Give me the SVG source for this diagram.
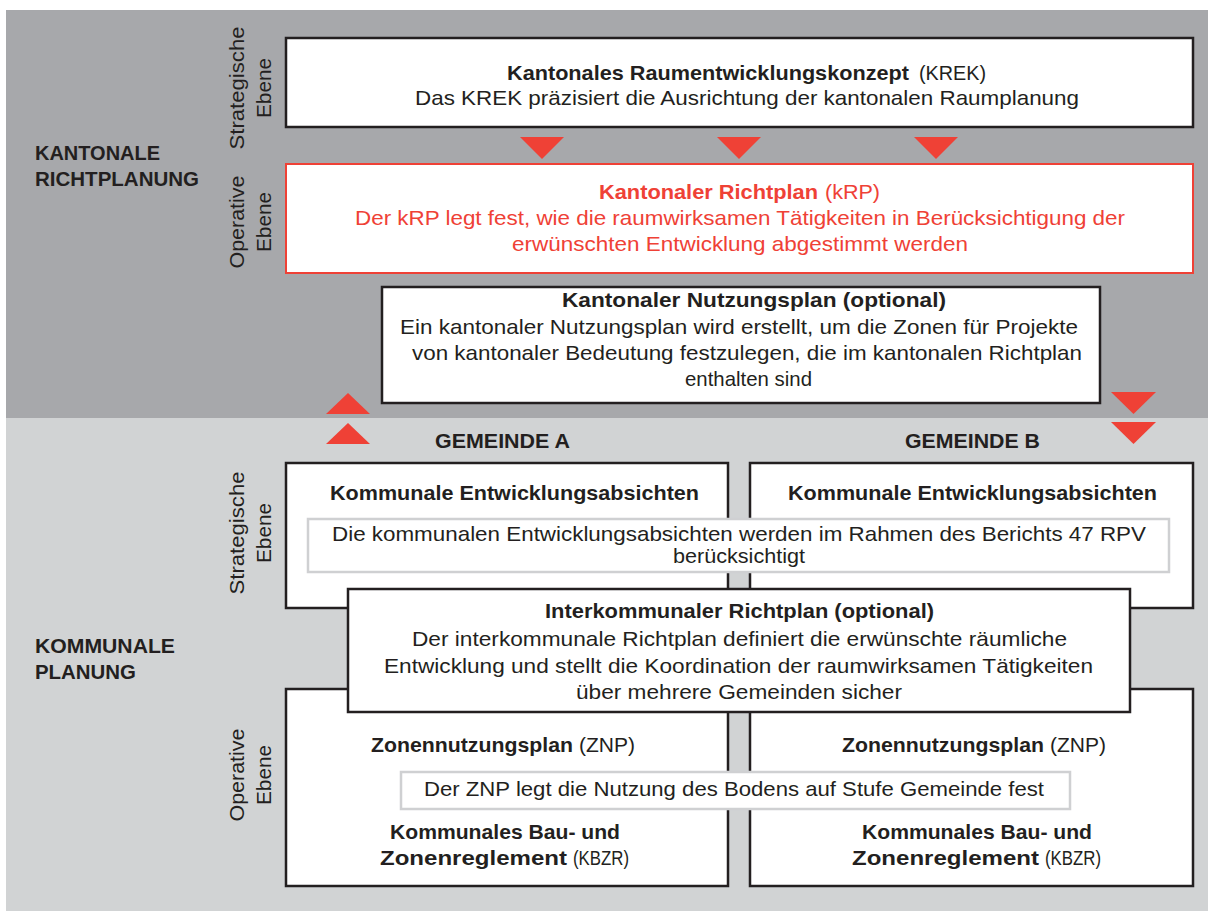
<svg xmlns="http://www.w3.org/2000/svg" width="1208" height="911" viewBox="0 0 1208 911">
<style>
text{font-family:"Liberation Sans",Arial,sans-serif;fill:#231f20;font-size:21px}
.b{font-weight:bold}
.c{text-anchor:middle}
.r{fill:#ef4136}
.lab{font-size:20px;text-anchor:middle}
.head{font-weight:bold;font-size:21px}
.box{fill:#fff;stroke:#231f20;stroke-width:2.5}
.rbox{fill:#fff;stroke:#ef4136;stroke-width:2}
.ov{fill:#fff;stroke:#cfd0d2;stroke-width:2.5}
.tri{fill:#ef4136}
</style>
<rect x="6" y="10" width="1202" height="408" fill="#a7a8ab"/>
<rect x="6" y="418" width="1202" height="493" fill="#d1d3d4"/>

<g id="side-labels">
<text class="head" x="35" y="160" textLength="125" lengthAdjust="spacingAndGlyphs">KANTONALE</text>
<text class="head" x="35" y="186" textLength="164" lengthAdjust="spacingAndGlyphs">RICHTPLANUNG</text>
<text class="head" x="35" y="653" textLength="140" lengthAdjust="spacingAndGlyphs">KOMMUNALE</text>
<text class="head" x="35" y="679" textLength="101" lengthAdjust="spacingAndGlyphs">PLANUNG</text>
<text class="lab" transform="translate(244,88) rotate(-90)" textLength="123" lengthAdjust="spacingAndGlyphs">Strategische</text>
<text class="lab" transform="translate(271,88) rotate(-90)" textLength="60" lengthAdjust="spacingAndGlyphs">Ebene</text>
<text class="lab" transform="translate(244,222) rotate(-90)" textLength="93" lengthAdjust="spacingAndGlyphs">Operative</text>
<text class="lab" transform="translate(271,222) rotate(-90)" textLength="60" lengthAdjust="spacingAndGlyphs">Ebene</text>
<text class="lab" transform="translate(244,533) rotate(-90)" textLength="123" lengthAdjust="spacingAndGlyphs">Strategische</text>
<text class="lab" transform="translate(271,533) rotate(-90)" textLength="60" lengthAdjust="spacingAndGlyphs">Ebene</text>
<text class="lab" transform="translate(244,775) rotate(-90)" textLength="93" lengthAdjust="spacingAndGlyphs">Operative</text>
<text class="lab" transform="translate(271,775) rotate(-90)" textLength="60" lengthAdjust="spacingAndGlyphs">Ebene</text>
<text class="head" x="435" y="448" textLength="135" lengthAdjust="spacingAndGlyphs">GEMEINDE A</text>
<text class="head" x="905" y="448" textLength="135" lengthAdjust="spacingAndGlyphs">GEMEINDE B</text>
</g>

<g id="krek">
<rect class="box" x="286" y="38" width="907" height="89"/>
<text class="b" x="507" y="80" textLength="402" lengthAdjust="spacingAndGlyphs">Kantonales Raumentwicklungskonzept</text>
<text x="919" y="80" textLength="67" lengthAdjust="spacingAndGlyphs">(KREK)</text>
<text x="415" y="105" textLength="664" lengthAdjust="spacingAndGlyphs">Das KREK präzisiert die Ausrichtung der kantonalen Raumplanung</text>
</g>

<g id="krp">
<rect class="rbox" x="286" y="164" width="907" height="109"/>
<text class="b r" x="599" y="199" textLength="219" lengthAdjust="spacingAndGlyphs">Kantonaler Richtplan</text>
<text class="r" x="825" y="199" textLength="55" lengthAdjust="spacingAndGlyphs">(kRP)</text>
<text class="r" x="355" y="225" textLength="770" lengthAdjust="spacingAndGlyphs">Der kRP legt fest, wie die raumwirksamen Tätigkeiten in Berücksichtigung der</text>
<text class="r" x="512" y="251" textLength="456" lengthAdjust="spacingAndGlyphs">erwünschten Entwicklung abgestimmt werden</text>
</g>

<g id="knp">
<rect class="box" x="382" y="287" width="718" height="116"/>
<text class="b" x="562" y="307" textLength="384" lengthAdjust="spacingAndGlyphs">Kantonaler Nutzungsplan (optional)</text>
<text x="400" y="334" textLength="678" lengthAdjust="spacingAndGlyphs">Ein kantonaler Nutzungsplan wird erstellt, um die Zonen für Projekte</text>
<text x="412" y="360" textLength="670" lengthAdjust="spacingAndGlyphs">von kantonaler Bedeutung festzulegen, die im kantonalen Richtplan</text>
<text x="685" y="386" textLength="127" lengthAdjust="spacingAndGlyphs">enthalten sind</text>
</g>

<g id="connectors">
<polygon class="tri" points="520,137 564,137 542,159"/>
<polygon class="tri" points="717,137 761,137 739,159"/>
<polygon class="tri" points="914,137 958,137 936,159"/>
<polygon class="tri" points="326,414 370,414 348,393"/>
<polygon class="tri" points="326,444 370,444 348,423"/>
<polygon class="tri" points="1111,392 1156,392 1133.5,414"/>
<polygon class="tri" points="1111,422 1156,422 1133.5,444"/>
</g>

<g id="strat-a">
<rect class="box" x="286" y="463" width="442" height="145"/>
<text class="b" x="330" y="500" textLength="369" lengthAdjust="spacingAndGlyphs">Kommunale Entwicklungsabsichten</text>
</g>
<g id="strat-b">
<rect class="box" x="750" y="463" width="443" height="145"/>
<text class="b" x="788" y="500" textLength="369" lengthAdjust="spacingAndGlyphs">Kommunale Entwicklungsabsichten</text>
</g>
<g id="strat-note">
<rect class="ov" x="308" y="519" width="861" height="53"/>
<text x="332" y="541" textLength="814" lengthAdjust="spacingAndGlyphs">Die kommunalen Entwicklungsabsichten werden im Rahmen des Berichts 47 RPV</text>
<text x="673" y="563" textLength="132" lengthAdjust="spacingAndGlyphs">berücksichtigt</text>
</g>

<g id="op-a">
<rect class="box" x="286" y="689" width="442" height="197"/>
<text class="b" x="371" y="752" textLength="202" lengthAdjust="spacingAndGlyphs">Zonennutzungsplan</text>
<text x="579" y="752" textLength="56" lengthAdjust="spacingAndGlyphs">(ZNP)</text>
<text class="b" x="390" y="839" textLength="230" lengthAdjust="spacingAndGlyphs">Kommunales Bau- und</text>
<text class="b" x="380" y="865" textLength="187" lengthAdjust="spacingAndGlyphs">Zonenreglement</text>
<text x="573" y="865" textLength="56" lengthAdjust="spacingAndGlyphs">(KBZR)</text>
</g>
<g id="op-b">
<rect class="box" x="750" y="689" width="443" height="197"/>
<text class="b" x="842" y="752" textLength="202" lengthAdjust="spacingAndGlyphs">Zonennutzungsplan</text>
<text x="1050" y="752" textLength="56" lengthAdjust="spacingAndGlyphs">(ZNP)</text>
<text class="b" x="862" y="839" textLength="230" lengthAdjust="spacingAndGlyphs">Kommunales Bau- und</text>
<text class="b" x="852" y="865" textLength="187" lengthAdjust="spacingAndGlyphs">Zonenreglement</text>
<text x="1045" y="865" textLength="56" lengthAdjust="spacingAndGlyphs">(KBZR)</text>
</g>

<g id="interkommunal">
<rect class="box" x="348" y="589" width="782" height="123"/>
<text class="b" x="545" y="618" textLength="389" lengthAdjust="spacingAndGlyphs">Interkommunaler Richtplan (optional)</text>
<text x="412" y="646" textLength="655" lengthAdjust="spacingAndGlyphs">Der interkommunale Richtplan definiert die erwünschte räumliche</text>
<text x="384" y="673" textLength="709" lengthAdjust="spacingAndGlyphs">Entwicklung und stellt die Koordination der raumwirksamen Tätigkeiten</text>
<text x="576" y="699" textLength="326" lengthAdjust="spacingAndGlyphs">über mehrere Gemeinden sicher</text>
</g>

<g id="znp-note">
<rect class="ov" x="401" y="772" width="669" height="37"/>
<text x="424" y="796" textLength="620" lengthAdjust="spacingAndGlyphs">Der ZNP legt die Nutzung des Bodens auf Stufe Gemeinde fest</text>
</g>
</svg>
